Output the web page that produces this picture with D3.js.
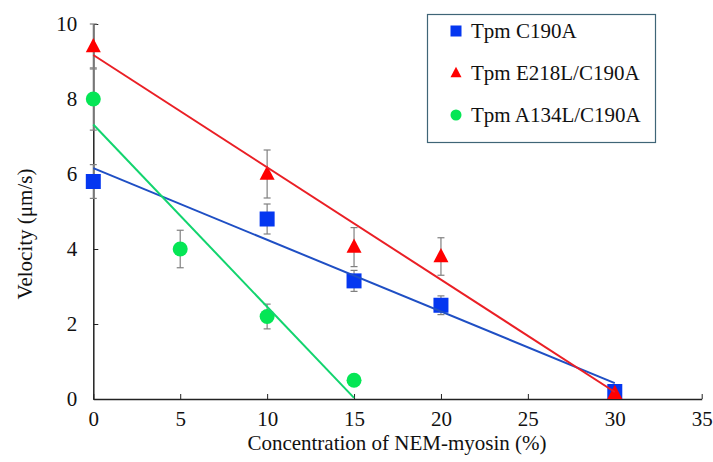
<!DOCTYPE html>
<meta charset="utf-8">
<body style="margin:0">
    <script src="https://d3js.org/d3.v7.min.js"></script>
    <script>
        // Data
        var seriesNames = ["Tpm C190A", "Tpm E218L/C190A", "Tpm A134L/C190A"];

        var blueX = [0, 10, 15, 20, 30];
        var blueY = [5.8, 4.8, 3.15, 2.5, 0.2];
        var blueErr = [0.45, 0.4, 0.28, 0.25, 0];

        var redX = [0, 10, 15, 20, 30];
        var redY = [9.4, 6.0, 4.05, 3.8, 0.15];
        var redErr = [0.6, 0.64, 0.52, 0.5, 0];

        var greenX = [0, 5, 10, 15];
        var greenY = [8.0, 4.0, 2.2, 0.5];
        var greenErr = [0.83, 0.5, 0.33, 0];

        var xTicks = [0, 5, 10, 15, 20, 25, 30, 35];
        var yTicks = [0, 2, 4, 6, 8, 10];

        var width = 713, height = 462;
        var svg = d3.select("body").append("svg")
            .attr("width", width)
            .attr("height", height)
            .style("font-family", "'Tinos'");

        // Plot area
        var x = d3.scaleLinear().domain([0, 35]).range([93.3, 701.7]);
        var y = d3.scaleLinear().domain([0, 10]).range([399, 24]);

        var series = [
            { name: seriesNames[0], xs: blueX, ys: blueY, err: blueErr, shape: "square", fill: "#0537f0", line: "#1f4fc4" },
            { name: seriesNames[1], xs: redX, ys: redY, err: redErr, shape: "triangle", fill: "#ff0000", line: "#ea1f25" },
            { name: seriesNames[2], xs: greenX, ys: greenY, err: greenErr, shape: "circle", fill: "#05e655", line: "#12d46e" }
        ];

        // Least squares line for each series (the trendline in the figure)
        function fitLine(xs, ys) {
            var mx = d3.mean(xs), my = d3.mean(ys);
            var sxy = 0, sxx = 0;
            xs.forEach(function (v, i) {
                sxy += (v - mx) * (ys[i] - my);
                sxx += (v - mx) * (v - mx);
            });
            var b = sxy / sxx;
            var a = my - b * mx;
            var x0 = d3.min(xs), x1 = d3.max(xs);
            return [[x0, a + b * x0], [x1, a + b * x1]];
        }

        function serifText(sel) {
            return sel.attr("font-family", null)
                .attr("font-size", null)
                .style("font-family", "'Tinos'")
                .style("font-size", "21px")
                .attr("fill", "#111");
        }

        // Axes (ticks pointing inward)
        var xAxis = svg.append("g")
            .attr("transform", "translate(0," + y(0) + ")")
            .call(d3.axisBottom(x).tickValues(xTicks).tickSizeInner(-5).tickSizeOuter(0).tickPadding(12));
        xAxis.attr("font-family", null).attr("font-size", null);
        xAxis.select(".domain").attr("stroke", "#222").attr("stroke-width", 1.5);
        xAxis.selectAll(".tick line").attr("stroke", "#222");
        serifText(xAxis.selectAll("text")).attr("dy", "0.71em");

        var yAxis = svg.append("g")
            .attr("transform", "translate(" + x(0) + ",0)")
            .call(d3.axisLeft(y).tickValues(yTicks).tickSizeInner(-5).tickSizeOuter(0).tickPadding(16));
        yAxis.attr("font-family", null).attr("font-size", null);
        yAxis.select(".domain").attr("stroke", "#222").attr("stroke-width", 1.5);
        yAxis.selectAll(".tick line").attr("stroke", "#222");
        serifText(yAxis.selectAll("text"));

        // Axis titles
        serifText(svg.append("text"))
            .attr("x", 397)
            .attr("y", 450)
            .attr("text-anchor", "middle")
            .text("Concentration of NEM-myosin (%)");

        serifText(svg.append("text"))
            .attr("transform", "translate(32,234) rotate(-90)")
            .attr("text-anchor", "middle")
            .text("Velocity (\u03bcm/s)");

        function drawMarker(g, shape, color, size) {
            if (shape === "square") {
                g.append("rect").attr("x", -size / 2).attr("y", -size / 2)
                    .attr("width", size).attr("height", size).attr("fill", color);
            } else if (shape === "triangle") {
                var h = size * 0.95;
                g.append("path")
                    .attr("d", "M0," + (-h * 0.6) + "L" + (size / 2) + "," + (h * 0.4) + "L" + (-size / 2) + "," + (h * 0.4) + "Z")
                    .attr("fill", color);
            } else {
                g.append("circle").attr("r", size / 2).attr("fill", color);
            }
        }

        // Error bars
        series.forEach(function (s) {
            var eg = svg.append("g").attr("stroke", "#808080").attr("stroke-width", 1.2);
            s.xs.forEach(function (xv, i) {
                var e = s.err[i];
                if (!e) return;
                var px = x(xv), top = y(s.ys[i] + e), bot = y(s.ys[i] - e);
                eg.append("line").attr("x1", px).attr("x2", px).attr("y1", top).attr("y2", bot);
                eg.append("line").attr("x1", px - 3.5).attr("x2", px + 3.5).attr("y1", top).attr("y2", top);
                eg.append("line").attr("x1", px - 3.5).attr("x2", px + 3.5).attr("y1", bot).attr("y2", bot);
            });
        });

        // Markers
        series.forEach(function (s) {
            s.xs.forEach(function (xv, i) {
                var g = svg.append("g").attr("transform", "translate(" + x(xv) + "," + y(s.ys[i]) + ")");
                drawMarker(g, s.shape, s.fill, 15);
            });
        });

        // Fit lines
        var line = d3.line().x(function (d) { return x(d[0]); }).y(function (d) { return y(d[1]); });
        series.forEach(function (s) {
            svg.append("path")
                .attr("fill", "none")
                .attr("stroke-width", 2)
                .attr("stroke", s.line)
                .attr("d", line(fitLine(s.xs, s.ys)));
        });

        // Legend
        var legend = svg.append("g");
        legend.append("rect")
            .attr("x", 427.5).attr("y", 14.5)
            .attr("width", 228).attr("height", 128)
            .attr("fill", "#fff")
            .attr("stroke", "#3f6577")
            .attr("stroke-width", 1.2);
        series.forEach(function (s, i) {
            var row = legend.append("g").attr("transform", "translate(0," + (31 + i * 42) + ")");
            drawMarker(row.append("g").attr("transform", "translate(456,0)"), s.shape, s.fill, 11);
            serifText(row.append("text"))
                .attr("x", 471)
                .attr("y", 0)
                .attr("dy", "0.35em")
                .text(s.name);
        });
    </script>
</body>
